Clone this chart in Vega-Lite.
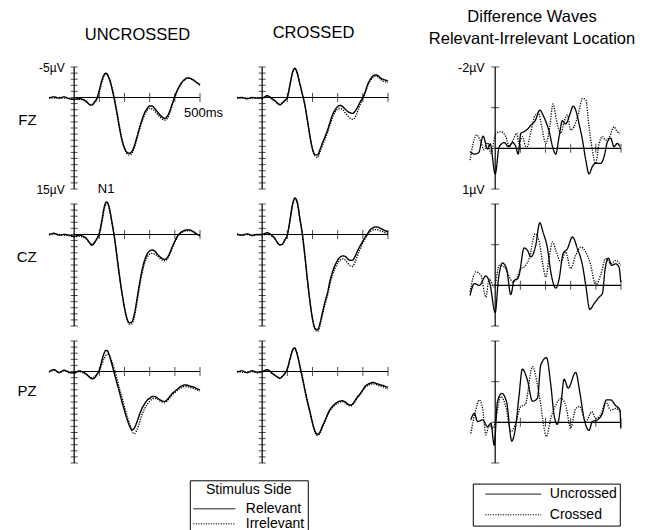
{
"$schema":"https://vega.github.io/schema/vega-lite/v6.json",
"padding":{"left":16,"top":9,"right":5,"bottom":0},
"background":"white",
"config":{"view":{"stroke":null},"font":"Liberation Sans","scale":{"continuousPadding":0}},
"datasets":{
"erp":[
{"p":"FZU","t":-100,"R":0.1,"I":0},{"p":"FZU","t":-80,"R":-0.1,"I":0.1},{"p":"FZU","t":-60,"R":0.1,"I":0},{"p":"FZU","t":-40,"R":-0.1,"I":0.1},{"p":"FZU","t":-20,"R":0.2,"I":0.1},{"p":"FZU","t":0,"R":0.3,"I":0.3},{"p":"FZU","t":20,"R":0.2,"I":0.3},{"p":"FZU","t":40,"R":0.4,"I":0.5},{"p":"FZU","t":50,"R":0.7,"I":0.8},{"p":"FZU","t":60,"R":1.1,"I":1.1},{"p":"FZU","t":70,"R":1.25,"I":1.2},{"p":"FZU","t":80,"R":0.8,"I":0.9},{"p":"FZU","t":90,"R":0.15,"I":0.3},{"p":"FZU","t":100,"R":-1.2,"I":-0.9},{"p":"FZU","t":110,"R":-2.8,"I":-2.5},{"p":"FZU","t":120,"R":-3.8,"I":-3.6},{"p":"FZU","t":125,"R":-4.0,"I":-3.9},{"p":"FZU","t":130,"R":-3.9,"I":-3.9},{"p":"FZU","t":135,"R":-3.5,"I":-3.6},{"p":"FZU","t":140,"R":-3.0,"I":-3.1},{"p":"FZU","t":150,"R":-1.5,"I":-1.7},{"p":"FZU","t":160,"R":0.4,"I":0.2},{"p":"FZU","t":170,"R":2.6,"I":2.3},{"p":"FZU","t":180,"R":5.0,"I":4.7},{"p":"FZU","t":190,"R":7.0,"I":6.8},{"p":"FZU","t":200,"R":8.3,"I":8.3},{"p":"FZU","t":210,"R":9.0,"I":9.2},{"p":"FZU","t":220,"R":9.15,"I":9.45},{"p":"FZU","t":230,"R":8.8,"I":9.1},{"p":"FZU","t":240,"R":7.8,"I":8.1},{"p":"FZU","t":250,"R":6.4,"I":6.7},{"p":"FZU","t":260,"R":4.9,"I":5.2},{"p":"FZU","t":270,"R":3.6,"I":3.9},{"p":"FZU","t":280,"R":2.5,"I":2.8},{"p":"FZU","t":290,"R":1.8,"I":2.1},{"p":"FZU","t":300,"R":1.4,"I":1.8},{"p":"FZU","t":310,"R":1.4,"I":1.9},{"p":"FZU","t":320,"R":1.8,"I":2.2},{"p":"FZU","t":330,"R":2.3,"I":2.7},{"p":"FZU","t":340,"R":2.8,"I":3.1},{"p":"FZU","t":350,"R":3.2,"I":3.5},{"p":"FZU","t":360,"R":3.4,"I":3.7},{"p":"FZU","t":370,"R":3.1,"I":3.4},{"p":"FZU","t":380,"R":2.2,"I":2.5},{"p":"FZU","t":390,"R":1.0,"I":1.2},{"p":"FZU","t":400,"R":-0.2,"I":0},{"p":"FZU","t":410,"R":-1.2,"I":-1.1},{"p":"FZU","t":420,"R":-2.0,"I":-1.9},{"p":"FZU","t":430,"R":-2.6,"I":-2.5},{"p":"FZU","t":440,"R":-3.0,"I":-2.9},{"p":"FZU","t":450,"R":-3.2,"I":-3.15},{"p":"FZU","t":460,"R":-3.15,"I":-3.15},{"p":"FZU","t":470,"R":-2.95,"I":-3.0},{"p":"FZU","t":480,"R":-2.65,"I":-2.7},{"p":"FZU","t":490,"R":-2.35,"I":-2.4},{"p":"FZU","t":500,"R":-2.0,"I":-2.1},
{"p":"FZC","t":-100,"R":0.1,"I":0},{"p":"FZC","t":-80,"R":0,"I":0.1},{"p":"FZC","t":-60,"R":0.2,"I":0.1},{"p":"FZC","t":-40,"R":0,"I":0.1},{"p":"FZC","t":-20,"R":0.1,"I":0},{"p":"FZC","t":0,"R":0.1,"I":0.2},{"p":"FZC","t":20,"R":-0.3,"I":-0.2},{"p":"FZC","t":40,"R":0.2,"I":0.3},{"p":"FZC","t":50,"R":0.5,"I":0.6},{"p":"FZC","t":60,"R":0.9,"I":0.9},{"p":"FZC","t":70,"R":1.2,"I":1.1},{"p":"FZC","t":80,"R":0.9,"I":0.9},{"p":"FZC","t":90,"R":0.5,"I":0.5},{"p":"FZC","t":100,"R":0,"I":0},{"p":"FZC","t":110,"R":-2.0,"I":-1.9},{"p":"FZC","t":120,"R":-4.0,"I":-3.9},{"p":"FZC","t":125,"R":-4.6,"I":-4.5},{"p":"FZC","t":130,"R":-4.8,"I":-4.7},{"p":"FZC","t":135,"R":-4.5,"I":-4.5},{"p":"FZC","t":140,"R":-3.9,"I":-3.9},{"p":"FZC","t":150,"R":-2.2,"I":-2.2},{"p":"FZC","t":160,"R":-0.5,"I":-0.5},{"p":"FZC","t":170,"R":1.3,"I":1.3},{"p":"FZC","t":180,"R":3.8,"I":3.8},{"p":"FZC","t":190,"R":6.4,"I":6.4},{"p":"FZC","t":200,"R":8.4,"I":8.5},{"p":"FZC","t":210,"R":9.4,"I":9.6},{"p":"FZC","t":220,"R":9.4,"I":9.8},{"p":"FZC","t":230,"R":8.5,"I":8.9},{"p":"FZC","t":240,"R":7.4,"I":7.8},{"p":"FZC","t":250,"R":6.4,"I":6.8},{"p":"FZC","t":260,"R":5.3,"I":5.7},{"p":"FZC","t":270,"R":4.0,"I":4.4},{"p":"FZC","t":280,"R":2.8,"I":3.2},{"p":"FZC","t":290,"R":2.0,"I":2.4},{"p":"FZC","t":300,"R":1.5,"I":1.9},{"p":"FZC","t":310,"R":1.3,"I":1.8},{"p":"FZC","t":320,"R":1.5,"I":2.0},{"p":"FZC","t":330,"R":1.9,"I":2.5},{"p":"FZC","t":340,"R":2.3,"I":3.0},{"p":"FZC","t":350,"R":2.5,"I":3.4},{"p":"FZC","t":360,"R":2.6,"I":3.6},{"p":"FZC","t":370,"R":2.2,"I":3.2},{"p":"FZC","t":380,"R":1.5,"I":2.2},{"p":"FZC","t":390,"R":0.7,"I":1.1},{"p":"FZC","t":400,"R":0,"I":0.2},{"p":"FZC","t":410,"R":-1.0,"I":-0.9},{"p":"FZC","t":420,"R":-2.2,"I":-2.0},{"p":"FZC","t":430,"R":-3.0,"I":-2.8},{"p":"FZC","t":440,"R":-3.5,"I":-3.3},{"p":"FZC","t":450,"R":-3.7,"I":-3.5},{"p":"FZC","t":460,"R":-3.6,"I":-3.4},{"p":"FZC","t":470,"R":-3.2,"I":-3.0},{"p":"FZC","t":480,"R":-3.0,"I":-2.7},{"p":"FZC","t":490,"R":-2.85,"I":-2.55},{"p":"FZC","t":500,"R":-2.7,"I":-2.4},
{"p":"CZU","t":-100,"R":0,"I":0.1},{"p":"CZU","t":-80,"R":-0.2,"I":-0.1},{"p":"CZU","t":-60,"R":0.1,"I":0},{"p":"CZU","t":-40,"R":0,"I":0.1},{"p":"CZU","t":-20,"R":0.1,"I":0.2},{"p":"CZU","t":0,"R":0.3,"I":0.4},{"p":"CZU","t":20,"R":0.1,"I":0.3},{"p":"CZU","t":40,"R":0.4,"I":0.5},{"p":"CZU","t":50,"R":0.7,"I":0.8},{"p":"CZU","t":60,"R":1.3,"I":1.3},{"p":"CZU","t":70,"R":1.75,"I":1.6},{"p":"CZU","t":80,"R":1.4,"I":1.3},{"p":"CZU","t":90,"R":0.7,"I":0.7},{"p":"CZU","t":100,"R":-0.2,"I":0},{"p":"CZU","t":110,"R":-2.3,"I":-1.9},{"p":"CZU","t":120,"R":-4.6,"I":-4.2},{"p":"CZU","t":125,"R":-5.2,"I":-4.8},{"p":"CZU","t":130,"R":-5.35,"I":-5.0},{"p":"CZU","t":135,"R":-5.0,"I":-4.8},{"p":"CZU","t":140,"R":-4.3,"I":-4.1},{"p":"CZU","t":150,"R":-2.0,"I":-2.0},{"p":"CZU","t":160,"R":0.5,"I":0.4},{"p":"CZU","t":170,"R":3.6,"I":3.5},{"p":"CZU","t":180,"R":6.8,"I":6.7},{"p":"CZU","t":190,"R":9.6,"I":9.6},{"p":"CZU","t":200,"R":12.0,"I":12.0},{"p":"CZU","t":210,"R":13.8,"I":13.9},{"p":"CZU","t":220,"R":14.5,"I":14.7},{"p":"CZU","t":230,"R":14.3,"I":14.6},{"p":"CZU","t":240,"R":12.9,"I":13.3},{"p":"CZU","t":250,"R":10.5,"I":11.0},{"p":"CZU","t":260,"R":8.0,"I":8.5},{"p":"CZU","t":270,"R":5.8,"I":6.3},{"p":"CZU","t":280,"R":4.2,"I":4.7},{"p":"CZU","t":290,"R":3.2,"I":3.7},{"p":"CZU","t":300,"R":2.7,"I":3.2},{"p":"CZU","t":310,"R":2.55,"I":3.1},{"p":"CZU","t":320,"R":2.7,"I":3.2},{"p":"CZU","t":330,"R":3.2,"I":3.5},{"p":"CZU","t":340,"R":3.6,"I":3.9},{"p":"CZU","t":350,"R":3.95,"I":4.2},{"p":"CZU","t":360,"R":4.1,"I":4.3},{"p":"CZU","t":370,"R":3.8,"I":4.0},{"p":"CZU","t":380,"R":3.0,"I":3.2},{"p":"CZU","t":390,"R":2.0,"I":2.2},{"p":"CZU","t":400,"R":1.1,"I":1.2},{"p":"CZU","t":410,"R":0.3,"I":0.4},{"p":"CZU","t":420,"R":-0.2,"I":-0.1},{"p":"CZU","t":430,"R":-0.5,"I":-0.4},{"p":"CZU","t":440,"R":-0.7,"I":-0.55},{"p":"CZU","t":450,"R":-0.75,"I":-0.6},{"p":"CZU","t":460,"R":-0.75,"I":-0.6},{"p":"CZU","t":470,"R":-0.55,"I":-0.45},{"p":"CZU","t":480,"R":-0.3,"I":-0.2},{"p":"CZU","t":490,"R":0,"I":0.05},{"p":"CZU","t":500,"R":0.2,"I":0.2},
{"p":"CZC","t":-100,"R":0,"I":-0.1},{"p":"CZC","t":-80,"R":0.1,"I":0.1},{"p":"CZC","t":-60,"R":-0.1,"I":0},{"p":"CZC","t":-40,"R":0.1,"I":0.2},{"p":"CZC","t":-20,"R":0,"I":0.1},{"p":"CZC","t":0,"R":0,"I":0.1},{"p":"CZC","t":20,"R":-0.3,"I":-0.1},{"p":"CZC","t":40,"R":0.2,"I":0.3},{"p":"CZC","t":50,"R":0.6,"I":0.7},{"p":"CZC","t":60,"R":1.3,"I":1.3},{"p":"CZC","t":70,"R":1.7,"I":1.7},{"p":"CZC","t":80,"R":1.6,"I":1.6},{"p":"CZC","t":90,"R":0.9,"I":0.9},{"p":"CZC","t":100,"R":0.1,"I":0.1},{"p":"CZC","t":110,"R":-2.2,"I":-2.1},{"p":"CZC","t":120,"R":-4.8,"I":-4.7},{"p":"CZC","t":125,"R":-5.6,"I":-5.5},{"p":"CZC","t":130,"R":-6.0,"I":-5.9},{"p":"CZC","t":135,"R":-5.8,"I":-5.7},{"p":"CZC","t":140,"R":-5.2,"I":-5.1},{"p":"CZC","t":150,"R":-2.6,"I":-2.5},{"p":"CZC","t":160,"R":0,"I":0.1},{"p":"CZC","t":170,"R":3.6,"I":3.6},{"p":"CZC","t":180,"R":7.5,"I":7.5},{"p":"CZC","t":190,"R":11.0,"I":11.0},{"p":"CZC","t":200,"R":13.8,"I":13.9},{"p":"CZC","t":210,"R":15.4,"I":15.5},{"p":"CZC","t":220,"R":15.6,"I":15.9},{"p":"CZC","t":230,"R":14.5,"I":14.9},{"p":"CZC","t":240,"R":12.7,"I":13.1},{"p":"CZC","t":250,"R":11.0,"I":11.4},{"p":"CZC","t":260,"R":9.5,"I":9.9},{"p":"CZC","t":270,"R":7.5,"I":8.0},{"p":"CZC","t":280,"R":6.1,"I":6.6},{"p":"CZC","t":290,"R":5.0,"I":5.5},{"p":"CZC","t":300,"R":4.2,"I":4.7},{"p":"CZC","t":310,"R":3.7,"I":4.2},{"p":"CZC","t":320,"R":3.5,"I":4.0},{"p":"CZC","t":330,"R":3.6,"I":4.2},{"p":"CZC","t":340,"R":4.0,"I":4.7},{"p":"CZC","t":350,"R":4.25,"I":5.1},{"p":"CZC","t":360,"R":4.2,"I":5.2},{"p":"CZC","t":370,"R":3.5,"I":4.4},{"p":"CZC","t":380,"R":2.6,"I":3.3},{"p":"CZC","t":390,"R":1.8,"I":2.3},{"p":"CZC","t":400,"R":1.1,"I":1.4},{"p":"CZC","t":410,"R":0.4,"I":0.6},{"p":"CZC","t":420,"R":-0.2,"I":0},{"p":"CZC","t":430,"R":-0.8,"I":-0.5},{"p":"CZC","t":440,"R":-1.1,"I":-0.75},{"p":"CZC","t":450,"R":-1.25,"I":-0.8},{"p":"CZC","t":460,"R":-1.2,"I":-0.75},{"p":"CZC","t":470,"R":-1.0,"I":-0.6},{"p":"CZC","t":480,"R":-0.8,"I":-0.45},{"p":"CZC","t":490,"R":-0.6,"I":-0.3},{"p":"CZC","t":500,"R":-0.5,"I":-0.2},
{"p":"PZU","t":-100,"R":0,"I":0.1},{"p":"PZU","t":-80,"R":-0.3,"I":-0.2},{"p":"PZU","t":-60,"R":0.2,"I":0.1},{"p":"PZU","t":-40,"R":-0.2,"I":-0.1},{"p":"PZU","t":-20,"R":0.1,"I":0.2},{"p":"PZU","t":0,"R":0.2,"I":0.3},{"p":"PZU","t":20,"R":-0.1,"I":0},{"p":"PZU","t":40,"R":0.2,"I":0.3},{"p":"PZU","t":50,"R":0.5,"I":0.5},{"p":"PZU","t":60,"R":0.9,"I":0.8},{"p":"PZU","t":70,"R":1.2,"I":1.0},{"p":"PZU","t":80,"R":1.1,"I":0.9},{"p":"PZU","t":90,"R":0.5,"I":0.5},{"p":"PZU","t":100,"R":-0.2,"I":-0.2},{"p":"PZU","t":110,"R":-1.8,"I":-1.2},{"p":"PZU","t":120,"R":-3.1,"I":-2.2},{"p":"PZU","t":125,"R":-3.45,"I":-2.6},{"p":"PZU","t":130,"R":-3.45,"I":-2.75},{"p":"PZU","t":135,"R":-3.2,"I":-2.8},{"p":"PZU","t":140,"R":-2.6,"I":-2.6},{"p":"PZU","t":150,"R":-1.2,"I":-1.6},{"p":"PZU","t":160,"R":0.4,"I":-0.3},{"p":"PZU","t":170,"R":1.9,"I":1.2},{"p":"PZU","t":180,"R":3.4,"I":2.8},{"p":"PZU","t":190,"R":5.0,"I":4.3},{"p":"PZU","t":200,"R":6.4,"I":5.8},{"p":"PZU","t":210,"R":7.8,"I":7.3},{"p":"PZU","t":220,"R":8.9,"I":8.6},{"p":"PZU","t":230,"R":9.6,"I":9.8},{"p":"PZU","t":240,"R":9.2,"I":10.2},{"p":"PZU","t":250,"R":8.2,"I":9.5},{"p":"PZU","t":260,"R":7.0,"I":8.3},{"p":"PZU","t":270,"R":6.0,"I":7.0},{"p":"PZU","t":280,"R":5.3,"I":6.1},{"p":"PZU","t":290,"R":4.7,"I":5.4},{"p":"PZU","t":300,"R":4.4,"I":4.9},{"p":"PZU","t":310,"R":4.1,"I":4.5},{"p":"PZU","t":320,"R":4.1,"I":4.4},{"p":"PZU","t":330,"R":4.3,"I":4.5},{"p":"PZU","t":340,"R":4.6,"I":4.8},{"p":"PZU","t":350,"R":4.85,"I":5.0},{"p":"PZU","t":360,"R":4.9,"I":5.1},{"p":"PZU","t":370,"R":4.6,"I":4.8},{"p":"PZU","t":380,"R":4.1,"I":4.3},{"p":"PZU","t":390,"R":3.6,"I":3.8},{"p":"PZU","t":400,"R":3.25,"I":3.45},{"p":"PZU","t":410,"R":2.9,"I":3.1},{"p":"PZU","t":420,"R":2.55,"I":2.8},{"p":"PZU","t":430,"R":2.3,"I":2.55},{"p":"PZU","t":440,"R":2.2,"I":2.45},{"p":"PZU","t":450,"R":2.25,"I":2.5},{"p":"PZU","t":460,"R":2.4,"I":2.6},{"p":"PZU","t":470,"R":2.5,"I":2.7},{"p":"PZU","t":480,"R":2.65,"I":2.85},{"p":"PZU","t":490,"R":2.85,"I":3.05},{"p":"PZU","t":500,"R":3.0,"I":3.2},
{"p":"PZC","t":-100,"R":0.1,"I":0},{"p":"PZC","t":-80,"R":-0.1,"I":0.1},{"p":"PZC","t":-60,"R":0.2,"I":0.1},{"p":"PZC","t":-40,"R":-0.1,"I":0},{"p":"PZC","t":-20,"R":0.1,"I":0.2},{"p":"PZC","t":0,"R":0,"I":0.1},{"p":"PZC","t":20,"R":-0.3,"I":-0.2},{"p":"PZC","t":40,"R":0.3,"I":0.3},{"p":"PZC","t":50,"R":0.6,"I":0.6},{"p":"PZC","t":60,"R":0.9,"I":0.9},{"p":"PZC","t":70,"R":1.1,"I":1.1},{"p":"PZC","t":80,"R":0.8,"I":0.8},{"p":"PZC","t":90,"R":0.35,"I":0.35},{"p":"PZC","t":100,"R":-0.4,"I":-0.4},{"p":"PZC","t":110,"R":-2.0,"I":-1.9},{"p":"PZC","t":120,"R":-3.4,"I":-3.3},{"p":"PZC","t":125,"R":-3.8,"I":-3.7},{"p":"PZC","t":130,"R":-3.85,"I":-3.8},{"p":"PZC","t":135,"R":-3.4,"I":-3.4},{"p":"PZC","t":140,"R":-2.7,"I":-2.7},{"p":"PZC","t":150,"R":-0.9,"I":-0.7},{"p":"PZC","t":160,"R":1.0,"I":1.2},{"p":"PZC","t":170,"R":3.0,"I":3.2},{"p":"PZC","t":180,"R":4.9,"I":5.1},{"p":"PZC","t":190,"R":6.6,"I":6.8},{"p":"PZC","t":200,"R":8.4,"I":8.6},{"p":"PZC","t":210,"R":9.8,"I":10.0},{"p":"PZC","t":220,"R":10.3,"I":10.5},{"p":"PZC","t":230,"R":9.9,"I":10.1},{"p":"PZC","t":240,"R":8.9,"I":9.1},{"p":"PZC","t":250,"R":8.0,"I":8.2},{"p":"PZC","t":260,"R":7.0,"I":7.2},{"p":"PZC","t":270,"R":6.2,"I":6.4},{"p":"PZC","t":280,"R":5.7,"I":5.9},{"p":"PZC","t":290,"R":5.3,"I":5.5},{"p":"PZC","t":300,"R":5.0,"I":5.2},{"p":"PZC","t":310,"R":4.85,"I":5.0},{"p":"PZC","t":320,"R":4.8,"I":4.95},{"p":"PZC","t":330,"R":5.0,"I":5.15},{"p":"PZC","t":340,"R":5.35,"I":5.5},{"p":"PZC","t":350,"R":5.5,"I":5.65},{"p":"PZC","t":360,"R":5.3,"I":5.45},{"p":"PZC","t":370,"R":4.7,"I":4.85},{"p":"PZC","t":380,"R":4.1,"I":4.25},{"p":"PZC","t":390,"R":3.6,"I":3.75},{"p":"PZC","t":400,"R":3.0,"I":3.15},{"p":"PZC","t":410,"R":2.4,"I":2.6},{"p":"PZC","t":420,"R":2.1,"I":2.3},{"p":"PZC","t":430,"R":1.9,"I":2.1},{"p":"PZC","t":440,"R":1.8,"I":2.0},{"p":"PZC","t":450,"R":1.9,"I":2.1},{"p":"PZC","t":460,"R":2.05,"I":2.25},{"p":"PZC","t":470,"R":2.2,"I":2.4},{"p":"PZC","t":480,"R":2.3,"I":2.5},{"p":"PZC","t":490,"R":2.45,"I":2.7},{"p":"PZC","t":500,"R":2.6,"I":2.9}
],
"diff":[
{"p":"FZ","c":"Uncrossed","t":-100,"v":0.08},{"p":"FZ","c":"Uncrossed","t":-83,"v":0.14},{"p":"FZ","c":"Uncrossed","t":-66,"v":0.11},{"p":"FZ","c":"Uncrossed","t":-48,"v":-0.3},{"p":"FZ","c":"Uncrossed","t":-30,"v":0.02},{"p":"FZ","c":"Uncrossed","t":-20,"v":-0.11},{"p":"FZ","c":"Uncrossed","t":0,"v":0.63},{"p":"FZ","c":"Uncrossed","t":16,"v":-0.04},{"p":"FZ","c":"Uncrossed","t":36,"v":-0.14},{"p":"FZ","c":"Uncrossed","t":53,"v":-0.04},{"p":"FZ","c":"Uncrossed","t":69,"v":-0.14},{"p":"FZ","c":"Uncrossed","t":82,"v":-0.04},{"p":"FZ","c":"Uncrossed","t":91,"v":0.14},{"p":"FZ","c":"Uncrossed","t":102,"v":-0.37},{"p":"FZ","c":"Uncrossed","t":115,"v":-0.41},{"p":"FZ","c":"Uncrossed","t":128,"v":-0.47},{"p":"FZ","c":"Uncrossed","t":142,"v":-0.57},{"p":"FZ","c":"Uncrossed","t":159,"v":-0.68},{"p":"FZ","c":"Uncrossed","t":177,"v":-0.94},{"p":"FZ","c":"Uncrossed","t":190,"v":-0.82},{"p":"FZ","c":"Uncrossed","t":201,"v":-0.66},{"p":"FZ","c":"Uncrossed","t":214,"v":-0.43},{"p":"FZ","c":"Uncrossed","t":228,"v":-0.04},{"p":"FZ","c":"Uncrossed","t":241,"v":0.14},{"p":"FZ","c":"Uncrossed","t":254,"v":-0.29},{"p":"FZ","c":"Uncrossed","t":267,"v":-0.68},{"p":"FZ","c":"Uncrossed","t":280,"v":-0.6},{"p":"FZ","c":"Uncrossed","t":296,"v":-0.82},{"p":"FZ","c":"Uncrossed","t":310,"v":-1.04},{"p":"FZ","c":"Uncrossed","t":320,"v":-0.94},{"p":"FZ","c":"Uncrossed","t":333,"v":-0.61},{"p":"FZ","c":"Uncrossed","t":347,"v":-0.2},{"p":"FZ","c":"Uncrossed","t":360,"v":0.29},{"p":"FZ","c":"Uncrossed","t":373,"v":0.63},{"p":"FZ","c":"Uncrossed","t":386,"v":0.45},{"p":"FZ","c":"Uncrossed","t":399,"v":0.37},{"p":"FZ","c":"Uncrossed","t":419,"v":0.37},{"p":"FZ","c":"Uncrossed","t":433,"v":0.2},{"p":"FZ","c":"Uncrossed","t":446,"v":-0.16},{"p":"FZ","c":"Uncrossed","t":459,"v":-0.25},{"p":"FZ","c":"Uncrossed","t":472,"v":-0.04},{"p":"FZ","c":"Uncrossed","t":485,"v":-0.12},{"p":"FZ","c":"Uncrossed","t":496,"v":-0.04},
{"p":"FZ","c":"Crossed","t":-100,"v":0.29},{"p":"FZ","c":"Crossed","t":-74,"v":-0.33},{"p":"FZ","c":"Crossed","t":-57,"v":-0.16},{"p":"FZ","c":"Crossed","t":-44,"v":0.04},{"p":"FZ","c":"Crossed","t":-30,"v":-0.14},{"p":"FZ","c":"Crossed","t":-17,"v":0.12},{"p":"FZ","c":"Crossed","t":3,"v":-0.37},{"p":"FZ","c":"Crossed","t":22,"v":-0.41},{"p":"FZ","c":"Crossed","t":42,"v":-0.29},{"p":"FZ","c":"Crossed","t":56,"v":-0.04},{"p":"FZ","c":"Crossed","t":71,"v":-0.2},{"p":"FZ","c":"Crossed","t":85,"v":-0.37},{"p":"FZ","c":"Crossed","t":95,"v":-0.12},{"p":"FZ","c":"Crossed","t":108,"v":-0.29},{"p":"FZ","c":"Crossed","t":124,"v":0},{"p":"FZ","c":"Crossed","t":142,"v":-0.41},{"p":"FZ","c":"Crossed","t":159,"v":-0.82},{"p":"FZ","c":"Crossed","t":172,"v":-0.86},{"p":"FZ","c":"Crossed","t":185,"v":-0.53},{"p":"FZ","c":"Crossed","t":201,"v":-0.12},{"p":"FZ","c":"Crossed","t":217,"v":-0.53},{"p":"FZ","c":"Crossed","t":230,"v":-1.09},{"p":"FZ","c":"Crossed","t":243,"v":-0.7},{"p":"FZ","c":"Crossed","t":261,"v":-0.37},{"p":"FZ","c":"Crossed","t":274,"v":-0.66},{"p":"FZ","c":"Crossed","t":287,"v":-0.82},{"p":"FZ","c":"Crossed","t":300,"v":-0.45},{"p":"FZ","c":"Crossed","t":313,"v":-0.53},{"p":"FZ","c":"Crossed","t":331,"v":-0.86},{"p":"FZ","c":"Crossed","t":347,"v":-1.23},{"p":"FZ","c":"Crossed","t":360,"v":-1.19},{"p":"FZ","c":"Crossed","t":373,"v":-0.53},{"p":"FZ","c":"Crossed","t":386,"v":0.04},{"p":"FZ","c":"Crossed","t":399,"v":0.37},{"p":"FZ","c":"Crossed","t":413,"v":-0.12},{"p":"FZ","c":"Crossed","t":426,"v":-0.29},{"p":"FZ","c":"Crossed","t":439,"v":-0.2},{"p":"FZ","c":"Crossed","t":455,"v":-0.29},{"p":"FZ","c":"Crossed","t":472,"v":-0.53},{"p":"FZ","c":"Crossed","t":485,"v":-0.41},{"p":"FZ","c":"Crossed","t":496,"v":-0.37},
{"p":"CZ","c":"Uncrossed","t":-100,"v":0.25},{"p":"CZ","c":"Uncrossed","t":-83,"v":-0.04},{"p":"CZ","c":"Uncrossed","t":-63,"v":0},{"p":"CZ","c":"Uncrossed","t":-37,"v":-0.23},{"p":"CZ","c":"Uncrossed","t":-21,"v":-0.04},{"p":"CZ","c":"Uncrossed","t":0,"v":0.67},{"p":"CZ","c":"Uncrossed","t":13,"v":-0.16},{"p":"CZ","c":"Uncrossed","t":29,"v":-0.55},{"p":"CZ","c":"Uncrossed","t":45,"v":-0.41},{"p":"CZ","c":"Uncrossed","t":62,"v":0.23},{"p":"CZ","c":"Uncrossed","t":75,"v":-0.12},{"p":"CZ","c":"Uncrossed","t":89,"v":-0.16},{"p":"CZ","c":"Uncrossed","t":95,"v":-0.25},{"p":"CZ","c":"Uncrossed","t":115,"v":-0.92},{"p":"CZ","c":"Uncrossed","t":128,"v":-0.86},{"p":"CZ","c":"Uncrossed","t":142,"v":-0.7},{"p":"CZ","c":"Uncrossed","t":161,"v":-0.98},{"p":"CZ","c":"Uncrossed","t":177,"v":-1.54},{"p":"CZ","c":"Uncrossed","t":190,"v":-1.31},{"p":"CZ","c":"Uncrossed","t":208,"v":-0.9},{"p":"CZ","c":"Uncrossed","t":221,"v":-0.33},{"p":"CZ","c":"Uncrossed","t":241,"v":0.07},{"p":"CZ","c":"Uncrossed","t":254,"v":-0.16},{"p":"CZ","c":"Uncrossed","t":270,"v":-0.78},{"p":"CZ","c":"Uncrossed","t":287,"v":-0.9},{"p":"CZ","c":"Uncrossed","t":307,"v":-1.19},{"p":"CZ","c":"Uncrossed","t":327,"v":-0.9},{"p":"CZ","c":"Uncrossed","t":347,"v":-0.49},{"p":"CZ","c":"Uncrossed","t":360,"v":0},{"p":"CZ","c":"Uncrossed","t":376,"v":0.59},{"p":"CZ","c":"Uncrossed","t":393,"v":0.45},{"p":"CZ","c":"Uncrossed","t":413,"v":0.29},{"p":"CZ","c":"Uncrossed","t":426,"v":0.2},{"p":"CZ","c":"Uncrossed","t":437,"v":-0.41},{"p":"CZ","c":"Uncrossed","t":450,"v":-0.67},{"p":"CZ","c":"Uncrossed","t":463,"v":-0.49},{"p":"CZ","c":"Uncrossed","t":479,"v":-0.53},{"p":"CZ","c":"Uncrossed","t":492,"v":-0.45},{"p":"CZ","c":"Uncrossed","t":499,"v":-0.08},
{"p":"CZ","c":"Crossed","t":-100,"v":0.16},{"p":"CZ","c":"Crossed","t":-77,"v":-0.33},{"p":"CZ","c":"Crossed","t":-57,"v":-0.25},{"p":"CZ","c":"Crossed","t":-37,"v":0.29},{"p":"CZ","c":"Crossed","t":-24,"v":-0.16},{"p":"CZ","c":"Crossed","t":-4,"v":0.04},{"p":"CZ","c":"Crossed","t":16,"v":-0.49},{"p":"CZ","c":"Crossed","t":36,"v":-0.45},{"p":"CZ","c":"Crossed","t":53,"v":-0.25},{"p":"CZ","c":"Crossed","t":69,"v":-0.08},{"p":"CZ","c":"Crossed","t":86,"v":-0.18},{"p":"CZ","c":"Crossed","t":102,"v":-0.41},{"p":"CZ","c":"Crossed","t":115,"v":-0.45},{"p":"CZ","c":"Crossed","t":135,"v":-0.66},{"p":"CZ","c":"Crossed","t":159,"v":-1.27},{"p":"CZ","c":"Crossed","t":175,"v":-1.07},{"p":"CZ","c":"Crossed","t":188,"v":-0.57},{"p":"CZ","c":"Crossed","t":201,"v":-0.2},{"p":"CZ","c":"Crossed","t":214,"v":-0.66},{"p":"CZ","c":"Crossed","t":228,"v":-1.07},{"p":"CZ","c":"Crossed","t":241,"v":-0.86},{"p":"CZ","c":"Crossed","t":261,"v":-0.57},{"p":"CZ","c":"Crossed","t":280,"v":-0.82},{"p":"CZ","c":"Crossed","t":300,"v":-0.41},{"p":"CZ","c":"Crossed","t":320,"v":-0.74},{"p":"CZ","c":"Crossed","t":340,"v":-0.94},{"p":"CZ","c":"Crossed","t":360,"v":-0.82},{"p":"CZ","c":"Crossed","t":380,"v":-0.49},{"p":"CZ","c":"Crossed","t":399,"v":0},{"p":"CZ","c":"Crossed","t":419,"v":-0.25},{"p":"CZ","c":"Crossed","t":439,"v":-0.66},{"p":"CZ","c":"Crossed","t":459,"v":-0.53},{"p":"CZ","c":"Crossed","t":479,"v":-0.61},{"p":"CZ","c":"Crossed","t":499,"v":-0.49},
{"p":"PZ","c":"Uncrossed","t":-97,"v":-0.06},{"p":"PZ","c":"Uncrossed","t":-83,"v":-0.22},{"p":"PZ","c":"Uncrossed","t":-70,"v":-0.02},{"p":"PZ","c":"Uncrossed","t":-50,"v":-0.06},{"p":"PZ","c":"Uncrossed","t":-30,"v":0.11},{"p":"PZ","c":"Uncrossed","t":-17,"v":0.02},{"p":"PZ","c":"Uncrossed","t":-4,"v":0.56},{"p":"PZ","c":"Uncrossed","t":9,"v":-0.51},{"p":"PZ","c":"Uncrossed","t":26,"v":-0.71},{"p":"PZ","c":"Uncrossed","t":45,"v":-0.51},{"p":"PZ","c":"Uncrossed","t":66,"v":0.46},{"p":"PZ","c":"Uncrossed","t":82,"v":0.07},{"p":"PZ","c":"Uncrossed","t":95,"v":-0.67},{"p":"PZ","c":"Uncrossed","t":108,"v":-1.31},{"p":"PZ","c":"Uncrossed","t":128,"v":-1.04},{"p":"PZ","c":"Uncrossed","t":148,"v":-0.52},{"p":"PZ","c":"Uncrossed","t":168,"v":-0.59},{"p":"PZ","c":"Uncrossed","t":181,"v":-1.41},{"p":"PZ","c":"Uncrossed","t":204,"v":-1.59},{"p":"PZ","c":"Uncrossed","t":221,"v":-0.92},{"p":"PZ","c":"Uncrossed","t":234,"v":-0.18},{"p":"PZ","c":"Uncrossed","t":247,"v":0.05},{"p":"PZ","c":"Uncrossed","t":261,"v":-0.43},{"p":"PZ","c":"Uncrossed","t":274,"v":-1.06},{"p":"PZ","c":"Uncrossed","t":290,"v":-0.84},{"p":"PZ","c":"Uncrossed","t":320,"v":-1.23},{"p":"PZ","c":"Uncrossed","t":336,"v":-0.75},{"p":"PZ","c":"Uncrossed","t":353,"v":-0.1},{"p":"PZ","c":"Uncrossed","t":373,"v":0.2},{"p":"PZ","c":"Uncrossed","t":386,"v":-0.02},{"p":"PZ","c":"Uncrossed","t":406,"v":-0.06},{"p":"PZ","c":"Uncrossed","t":426,"v":-0.22},{"p":"PZ","c":"Uncrossed","t":442,"v":-0.55},{"p":"PZ","c":"Uncrossed","t":459,"v":-0.55},{"p":"PZ","c":"Uncrossed","t":479,"v":-0.41},{"p":"PZ","c":"Uncrossed","t":496,"v":-0.3},{"p":"PZ","c":"Uncrossed","t":499,"v":0.15},
{"p":"PZ","c":"Crossed","t":-97,"v":0.27},{"p":"PZ","c":"Crossed","t":-79,"v":-0.26},{"p":"PZ","c":"Crossed","t":-63,"v":-0.55},{"p":"PZ","c":"Crossed","t":-50,"v":-0.34},{"p":"PZ","c":"Crossed","t":-37,"v":0.31},{"p":"PZ","c":"Crossed","t":-24,"v":0.07},{"p":"PZ","c":"Crossed","t":-8,"v":0.15},{"p":"PZ","c":"Crossed","t":5,"v":-0.18},{"p":"PZ","c":"Crossed","t":22,"v":-0.63},{"p":"PZ","c":"Crossed","t":42,"v":-0.39},{"p":"PZ","c":"Crossed","t":62,"v":0.23},{"p":"PZ","c":"Crossed","t":79,"v":0.07},{"p":"PZ","c":"Crossed","t":102,"v":-0.39},{"p":"PZ","c":"Crossed","t":119,"v":-0.43},{"p":"PZ","c":"Crossed","t":148,"v":-1.37},{"p":"PZ","c":"Crossed","t":168,"v":-0.92},{"p":"PZ","c":"Crossed","t":181,"v":-0.43},{"p":"PZ","c":"Crossed","t":190,"v":-0.02},{"p":"PZ","c":"Crossed","t":204,"v":0.35},{"p":"PZ","c":"Crossed","t":221,"v":-0.1},{"p":"PZ","c":"Crossed","t":241,"v":-0.43},{"p":"PZ","c":"Crossed","t":261,"v":-0.59},{"p":"PZ","c":"Crossed","t":280,"v":-0.43},{"p":"PZ","c":"Crossed","t":300,"v":0.15},{"p":"PZ","c":"Crossed","t":320,"v":-0.34},{"p":"PZ","c":"Crossed","t":336,"v":-0.39},{"p":"PZ","c":"Crossed","t":360,"v":-0.02},{"p":"PZ","c":"Crossed","t":384,"v":-0.26},{"p":"PZ","c":"Crossed","t":399,"v":-0.1},{"p":"PZ","c":"Crossed","t":419,"v":-0.18},{"p":"PZ","c":"Crossed","t":439,"v":-0.51},{"p":"PZ","c":"Crossed","t":459,"v":-0.3},{"p":"PZ","c":"Crossed","t":479,"v":-0.34},{"p":"PZ","c":"Crossed","t":496,"v":-0.26}
],
"ytE":[{"v":-5},{"v":-4},{"v":-3},{"v":-2},{"v":-1},{"v":0},{"v":1},{"v":2},{"v":3},{"v":4},{"v":5},{"v":6},{"v":7},{"v":8},{"v":9},{"v":10},{"v":11},{"v":12},{"v":13},{"v":14},{"v":15}],
"ytD":[{"v":-2},{"v":-1},{"v":0},{"v":1}],
"xt":[{"v":100},{"v":200},{"v":300},{"v":400},{"v":500}],
"one":[{"k":1}]
},
"columns":3,
"spacing":{"row":15,"column":37},
"align":"each",
"bounds":"flush",
"resolve":{"scale":{"strokeDash":"independent"},"legend":{"strokeDash":"independent"}},
"concat":[
{"width":151,"height":122,
"title":{"text":"UNCROSSED","fontSize":16.5,"fontWeight":"normal","color":"black","anchor":"middle","frame":"group","dx":13,"baseline":"alphabetic","offset":4.8},
"resolve":{"axis":{"y":"independent"}},
"layer":[
{"data":{"name":"erp"},"transform":[{"filter":"datum.p==='FZU'"},{"fold":["R","I"],"as":["side","v"]}],
"mark":{"type":"line","interpolate":"monotone","color":"black","strokeWidth":1.4},
"encoding":{"x":{"field":"t","type":"quantitative","scale":{"domain":[-100,500],"nice":false,"padding":0},"axis":null},
"y":{"field":"v","type":"quantitative","scale":{"domain":[-5,15],"reverse":true,"nice":false,"padding":0},"axis":{"orient":"left","values":[-5,15],"labelExpr":"datum.value + 'µV'","domain":false,"ticks":false,"grid":false,"offset":-25.2,"labelPadding":10,"labelFontSize":12,"labelColor":"black","labelFlush":false,"labelOverlap":false,"title":"FZ","titleAngle":0,"titleAlign":"right","titleBaseline":"middle","titleX":-38,"titleY":52,"titleFontSize":15,"titleFontWeight":"normal","titleColor":"black"}},
"strokeDash":{"field":"side","type":"nominal","scale":{"domain":["R","I"],"range":[[1,0],[1.2,1.3]]},"legend":null}}},
{"data":{"name":"ytE"},"mark":{"type":"tick","orient":"horizontal","size":7,"thickness":1,"color":"black"},"encoding":{"x":{"datum":0,"scale":{"domain":[-100,500],"nice":false,"padding":0},"axis":null},"y":{"field":"v","type":"quantitative","scale":{"domain":[-5,15],"reverse":true,"nice":false,"padding":0},"axis":null}}},
{"data":{"name":"xt"},"mark":{"type":"tick","orient":"vertical","size":9,"thickness":1,"color":"black"},"encoding":{"x":{"field":"v","type":"quantitative","scale":{"domain":[-100,500],"nice":false,"padding":0},"axis":null},"y":{"datum":0,"scale":{"domain":[-5,15],"reverse":true,"nice":false,"padding":0},"axis":null}}},
{"data":{"name":"one"},"mark":{"type":"rule","color":"black","strokeWidth":1.2},"encoding":{"x":{"datum":0,"scale":{"domain":[-100,500],"nice":false,"padding":0},"axis":null},"y":{"datum":-5,"scale":{"domain":[-5,15],"reverse":true,"nice":false,"padding":0},"axis":null},"y2":{"datum":15}}},
{"data":{"name":"one"},"mark":{"type":"rule","color":"black","strokeWidth":1.2},"encoding":{"x":{"datum":0,"scale":{"domain":[-100,500],"nice":false,"padding":0},"axis":null},"x2":{"datum":500},"y":{"datum":0,"scale":{"domain":[-5,15],"reverse":true,"nice":false,"padding":0},"axis":null}}},
{"data":{"values":[{"t":514,"v":2.5,"txt":"500ms"}]},"mark":{"type":"text","fontSize":13,"align":"center","baseline":"middle","color":"black"},"encoding":{"x":{"field":"t","type":"quantitative","scale":{"domain":[-100,500],"nice":false,"padding":0},"axis":null},"y":{"field":"v","type":"quantitative","scale":{"domain":[-5,15],"reverse":true,"nice":false,"padding":0},"axis":null},"text":{"field":"txt"}}}
]},
{"width":151,"height":122,
"title":{"text":"CROSSED","fontSize":16.5,"fontWeight":"normal","color":"black","anchor":"middle","frame":"group","dx":1,"baseline":"alphabetic","offset":11.4},
"layer":[
{"data":{"name":"erp"},"transform":[{"filter":"datum.p==='FZC'"},{"fold":["R","I"],"as":["side","v"]}],
"mark":{"type":"line","interpolate":"monotone","color":"black","strokeWidth":1.4},
"encoding":{"x":{"field":"t","type":"quantitative","scale":{"domain":[-100,500],"nice":false,"padding":0},"axis":null},
"y":{"field":"v","type":"quantitative","scale":{"domain":[-5,15],"reverse":true,"nice":false,"padding":0},"axis":null},
"strokeDash":{"field":"side","type":"nominal","scale":{"domain":["R","I"],"range":[[1,0],[1.2,1.3]]},"legend":null}}},
{"data":{"name":"ytE"},"mark":{"type":"tick","orient":"horizontal","size":7,"thickness":1,"color":"black"},"encoding":{"x":{"datum":0,"scale":{"domain":[-100,500],"nice":false,"padding":0},"axis":null},"y":{"field":"v","type":"quantitative","scale":{"domain":[-5,15],"reverse":true,"nice":false,"padding":0},"axis":null}}},
{"data":{"name":"xt"},"mark":{"type":"tick","orient":"vertical","size":9,"thickness":1,"color":"black"},"encoding":{"x":{"field":"v","type":"quantitative","scale":{"domain":[-100,500],"nice":false,"padding":0},"axis":null},"y":{"datum":0,"scale":{"domain":[-5,15],"reverse":true,"nice":false,"padding":0},"axis":null}}},
{"data":{"name":"one"},"mark":{"type":"rule","color":"black","strokeWidth":1.2},"encoding":{"x":{"datum":0,"scale":{"domain":[-100,500],"nice":false,"padding":0},"axis":null},"y":{"datum":-5,"scale":{"domain":[-5,15],"reverse":true,"nice":false,"padding":0},"axis":null},"y2":{"datum":15}}},
{"data":{"name":"one"},"mark":{"type":"rule","color":"black","strokeWidth":1.2},"encoding":{"x":{"datum":0,"scale":{"domain":[-100,500],"nice":false,"padding":0},"axis":null},"x2":{"datum":500},"y":{"datum":0,"scale":{"domain":[-5,15],"reverse":true,"nice":false,"padding":0},"axis":null}}}
]},
{"width":196,"height":122,
"title":{"text":["Difference Waves","Relevant-Irrelevant Location"],"lineHeight":21.6,"fontSize":16.5,"fontWeight":"normal","color":"black","anchor":"middle","frame":"group","dx":9,"baseline":"alphabetic","offset":0.6},
"resolve":{"axis":{"y":"independent"}},
"layer":[
{"data":{"name":"diff"},"transform":[{"filter":"datum.p==='FZ'"}],
"mark":{"type":"line","interpolate":"monotone","color":"black","strokeWidth":1.3},
"encoding":{"x":{"field":"t","type":"quantitative","scale":{"domain":[-279,500],"nice":false,"padding":0},"axis":null},
"y":{"field":"v","type":"quantitative","scale":{"domain":[-2,1],"reverse":true,"nice":false,"padding":0},"axis":{"orient":"left","values":[-2,1],"labelExpr":"datum.value + 'µV'","domain":false,"ticks":false,"grid":false,"offset":-70.2,"labelPadding":11,"labelFontSize":12.5,"labelColor":"black","labelFlush":false,"labelOverlap":false,"title":null}},
"strokeDash":{"field":"c","type":"nominal","scale":{"domain":["Uncrossed","Crossed"],"range":[[1,0],[1.2,1.3]]},"legend":null}}},
{"data":{"name":"ytD"},"mark":{"type":"tick","orient":"horizontal","size":8,"thickness":1,"color":"black"},"encoding":{"x":{"datum":0,"scale":{"domain":[-279,500],"nice":false,"padding":0},"axis":null},"y":{"field":"v","type":"quantitative","scale":{"domain":[-2,1],"reverse":true,"nice":false,"padding":0},"axis":null}}},
{"data":{"name":"xt"},"mark":{"type":"tick","orient":"vertical","size":9,"thickness":1,"color":"black"},"encoding":{"x":{"field":"v","type":"quantitative","scale":{"domain":[-279,500],"nice":false,"padding":0},"axis":null},"y":{"datum":0,"scale":{"domain":[-2,1],"reverse":true,"nice":false,"padding":0},"axis":null}}},
{"data":{"name":"one"},"mark":{"type":"rule","color":"black","strokeWidth":1.2},"encoding":{"x":{"datum":0,"scale":{"domain":[-279,500],"nice":false,"padding":0},"axis":null},"y":{"datum":-2,"scale":{"domain":[-2,1],"reverse":true,"nice":false,"padding":0},"axis":null},"y2":{"datum":1}}},
{"data":{"name":"one"},"mark":{"type":"rule","color":"black","strokeWidth":1.2},"encoding":{"x":{"datum":0,"scale":{"domain":[-279,500],"nice":false,"padding":0},"axis":null},"x2":{"datum":500},"y":{"datum":0,"scale":{"domain":[-2,1],"reverse":true,"nice":false,"padding":0},"axis":null}}}
]},
{"width":151,"height":122,
"resolve":{"axis":{"y":"independent"}},
"layer":[
{"data":{"name":"erp"},"transform":[{"filter":"datum.p==='CZU'"},{"fold":["R","I"],"as":["side","v"]}],
"mark":{"type":"line","interpolate":"monotone","color":"black","strokeWidth":1.4},
"encoding":{"x":{"field":"t","type":"quantitative","scale":{"domain":[-100,500],"nice":false,"padding":0},"axis":null},
"y":{"field":"v","type":"quantitative","scale":{"domain":[-5,15],"reverse":true,"nice":false,"padding":0},"axis":{"orient":"left","labels":false,"domain":false,"ticks":false,"grid":false,"offset":-25.2,"title":"CZ","titleAngle":0,"titleAlign":"right","titleBaseline":"middle","titleX":-38,"titleY":52.5,"titleFontSize":15,"titleFontWeight":"normal","titleColor":"black"}},
"strokeDash":{"field":"side","type":"nominal","scale":{"domain":["R","I"],"range":[[1,0],[1.2,1.3]]},"legend":null}}},
{"data":{"name":"ytE"},"mark":{"type":"tick","orient":"horizontal","size":7,"thickness":1,"color":"black"},"encoding":{"x":{"datum":0,"scale":{"domain":[-100,500],"nice":false,"padding":0},"axis":null},"y":{"field":"v","type":"quantitative","scale":{"domain":[-5,15],"reverse":true,"nice":false,"padding":0},"axis":null}}},
{"data":{"name":"xt"},"mark":{"type":"tick","orient":"vertical","size":9,"thickness":1,"color":"black"},"encoding":{"x":{"field":"v","type":"quantitative","scale":{"domain":[-100,500],"nice":false,"padding":0},"axis":null},"y":{"datum":0,"scale":{"domain":[-5,15],"reverse":true,"nice":false,"padding":0},"axis":null}}},
{"data":{"name":"one"},"mark":{"type":"rule","color":"black","strokeWidth":1.2},"encoding":{"x":{"datum":0,"scale":{"domain":[-100,500],"nice":false,"padding":0},"axis":null},"y":{"datum":-5,"scale":{"domain":[-5,15],"reverse":true,"nice":false,"padding":0},"axis":null},"y2":{"datum":15}}},
{"data":{"name":"one"},"mark":{"type":"rule","color":"black","strokeWidth":1.2},"encoding":{"x":{"datum":0,"scale":{"domain":[-100,500],"nice":false,"padding":0},"axis":null},"x2":{"datum":500},"y":{"datum":0,"scale":{"domain":[-5,15],"reverse":true,"nice":false,"padding":0},"axis":null}}},
{"data":{"values":[{"t":127,"v":-7.4,"txt":"N1"}]},"mark":{"type":"text","fontSize":13,"align":"center","baseline":"middle","color":"black"},"encoding":{"x":{"field":"t","type":"quantitative","scale":{"domain":[-100,500],"nice":false,"padding":0},"axis":null},"y":{"field":"v","type":"quantitative","scale":{"domain":[-5,15],"reverse":true,"nice":false,"padding":0},"axis":null},"text":{"field":"txt"}}}
]},
{"width":151,"height":122,
"layer":[
{"data":{"name":"erp"},"transform":[{"filter":"datum.p==='CZC'"},{"fold":["R","I"],"as":["side","v"]}],
"mark":{"type":"line","interpolate":"monotone","color":"black","strokeWidth":1.4},
"encoding":{"x":{"field":"t","type":"quantitative","scale":{"domain":[-100,500],"nice":false,"padding":0},"axis":null},
"y":{"field":"v","type":"quantitative","scale":{"domain":[-5,15],"reverse":true,"nice":false,"padding":0},"axis":null},
"strokeDash":{"field":"side","type":"nominal","scale":{"domain":["R","I"],"range":[[1,0],[1.2,1.3]]},"legend":null}}},
{"data":{"name":"ytE"},"mark":{"type":"tick","orient":"horizontal","size":7,"thickness":1,"color":"black"},"encoding":{"x":{"datum":0,"scale":{"domain":[-100,500],"nice":false,"padding":0},"axis":null},"y":{"field":"v","type":"quantitative","scale":{"domain":[-5,15],"reverse":true,"nice":false,"padding":0},"axis":null}}},
{"data":{"name":"xt"},"mark":{"type":"tick","orient":"vertical","size":9,"thickness":1,"color":"black"},"encoding":{"x":{"field":"v","type":"quantitative","scale":{"domain":[-100,500],"nice":false,"padding":0},"axis":null},"y":{"datum":0,"scale":{"domain":[-5,15],"reverse":true,"nice":false,"padding":0},"axis":null}}},
{"data":{"name":"one"},"mark":{"type":"rule","color":"black","strokeWidth":1.2},"encoding":{"x":{"datum":0,"scale":{"domain":[-100,500],"nice":false,"padding":0},"axis":null},"y":{"datum":-5,"scale":{"domain":[-5,15],"reverse":true,"nice":false,"padding":0},"axis":null},"y2":{"datum":15}}},
{"data":{"name":"one"},"mark":{"type":"rule","color":"black","strokeWidth":1.2},"encoding":{"x":{"datum":0,"scale":{"domain":[-100,500],"nice":false,"padding":0},"axis":null},"x2":{"datum":500},"y":{"datum":0,"scale":{"domain":[-5,15],"reverse":true,"nice":false,"padding":0},"axis":null}}}
]},
{"width":196,"height":122,
"layer":[
{"data":{"name":"diff"},"transform":[{"filter":"datum.p==='CZ'"}],
"mark":{"type":"line","interpolate":"monotone","color":"black","strokeWidth":1.3},
"encoding":{"x":{"field":"t","type":"quantitative","scale":{"domain":[-279,500],"nice":false,"padding":0},"axis":null},
"y":{"field":"v","type":"quantitative","scale":{"domain":[-2,1],"reverse":true,"nice":false,"padding":0},"axis":null},
"strokeDash":{"field":"c","type":"nominal","scale":{"domain":["Uncrossed","Crossed"],"range":[[1,0],[1.2,1.3]]},"legend":null}}},
{"data":{"name":"ytD"},"mark":{"type":"tick","orient":"horizontal","size":8,"thickness":1,"color":"black"},"encoding":{"x":{"datum":0,"scale":{"domain":[-279,500],"nice":false,"padding":0},"axis":null},"y":{"field":"v","type":"quantitative","scale":{"domain":[-2,1],"reverse":true,"nice":false,"padding":0},"axis":null}}},
{"data":{"name":"xt"},"mark":{"type":"tick","orient":"vertical","size":9,"thickness":1,"color":"black"},"encoding":{"x":{"field":"v","type":"quantitative","scale":{"domain":[-279,500],"nice":false,"padding":0},"axis":null},"y":{"datum":0,"scale":{"domain":[-2,1],"reverse":true,"nice":false,"padding":0},"axis":null}}},
{"data":{"name":"one"},"mark":{"type":"rule","color":"black","strokeWidth":1.2},"encoding":{"x":{"datum":0,"scale":{"domain":[-279,500],"nice":false,"padding":0},"axis":null},"y":{"datum":-2,"scale":{"domain":[-2,1],"reverse":true,"nice":false,"padding":0},"axis":null},"y2":{"datum":1}}},
{"data":{"name":"one"},"mark":{"type":"rule","color":"black","strokeWidth":1.2},"encoding":{"x":{"datum":0,"scale":{"domain":[-279,500],"nice":false,"padding":0},"axis":null},"x2":{"datum":500},"y":{"datum":0,"scale":{"domain":[-2,1],"reverse":true,"nice":false,"padding":0},"axis":null}}}
]},
{"width":151,"height":122,
"resolve":{"axis":{"y":"independent"}},
"layer":[
{"data":{"name":"erp"},"transform":[{"filter":"datum.p==='PZU'"},{"fold":["R","I"],"as":["side","v"]}],
"mark":{"type":"line","interpolate":"monotone","color":"black","strokeWidth":1.4},
"encoding":{"x":{"field":"t","type":"quantitative","scale":{"domain":[-100,500],"nice":false,"padding":0},"axis":null},
"y":{"field":"v","type":"quantitative","scale":{"domain":[-5,15],"reverse":true,"nice":false,"padding":0},"axis":{"orient":"left","labels":false,"domain":false,"ticks":false,"grid":false,"offset":-25.2,"title":"PZ","titleAngle":0,"titleAlign":"right","titleBaseline":"middle","titleX":-38,"titleY":49.5,"titleFontSize":15,"titleFontWeight":"normal","titleColor":"black"}},
"strokeDash":{"field":"side","type":"nominal","scale":{"domain":["R","I"],"range":[[1,0],[1.2,1.3]]},
"legend":{"orient":"none","legendX":140.8,"legendY":139.3,"title":"Stimulus Side","titleFontSize":14,"titleFontWeight":"normal","titleColor":"black","titleAnchor":"middle","titlePadding":4,"labelFontSize":14,"labelColor":"black","labelOffset":24,"labelExpr":"(datum.label === 'R' ? 'Relevant' : 'Irrelevant') + '\u00a0'","symbolType":"M-3,0H3","symbolSize":196,"symbolOffset":14,"symbolStrokeWidth":1,"symbolStrokeColor":"black","symbolFillColor":"transparent","strokeColor":"black","fillColor":"white","padding":3,"rowPadding":0}}}},
{"data":{"name":"ytE"},"mark":{"type":"tick","orient":"horizontal","size":7,"thickness":1,"color":"black"},"encoding":{"x":{"datum":0,"scale":{"domain":[-100,500],"nice":false,"padding":0},"axis":null},"y":{"field":"v","type":"quantitative","scale":{"domain":[-5,15],"reverse":true,"nice":false,"padding":0},"axis":null}}},
{"data":{"name":"xt"},"mark":{"type":"tick","orient":"vertical","size":9,"thickness":1,"color":"black"},"encoding":{"x":{"field":"v","type":"quantitative","scale":{"domain":[-100,500],"nice":false,"padding":0},"axis":null},"y":{"datum":0,"scale":{"domain":[-5,15],"reverse":true,"nice":false,"padding":0},"axis":null}}},
{"data":{"name":"one"},"mark":{"type":"rule","color":"black","strokeWidth":1.2},"encoding":{"x":{"datum":0,"scale":{"domain":[-100,500],"nice":false,"padding":0},"axis":null},"y":{"datum":-5,"scale":{"domain":[-5,15],"reverse":true,"nice":false,"padding":0},"axis":null},"y2":{"datum":15}}},
{"data":{"name":"one"},"mark":{"type":"rule","color":"black","strokeWidth":1.2},"encoding":{"x":{"datum":0,"scale":{"domain":[-100,500],"nice":false,"padding":0},"axis":null},"x2":{"datum":500},"y":{"datum":0,"scale":{"domain":[-5,15],"reverse":true,"nice":false,"padding":0},"axis":null}}}
]},
{"width":151,"height":122,
"layer":[
{"data":{"name":"erp"},"transform":[{"filter":"datum.p==='PZC'"},{"fold":["R","I"],"as":["side","v"]}],
"mark":{"type":"line","interpolate":"monotone","color":"black","strokeWidth":1.4},
"encoding":{"x":{"field":"t","type":"quantitative","scale":{"domain":[-100,500],"nice":false,"padding":0},"axis":null},
"y":{"field":"v","type":"quantitative","scale":{"domain":[-5,15],"reverse":true,"nice":false,"padding":0},"axis":null},
"strokeDash":{"field":"side","type":"nominal","scale":{"domain":["R","I"],"range":[[1,0],[1.2,1.3]]},"legend":null}}},
{"data":{"name":"ytE"},"mark":{"type":"tick","orient":"horizontal","size":7,"thickness":1,"color":"black"},"encoding":{"x":{"datum":0,"scale":{"domain":[-100,500],"nice":false,"padding":0},"axis":null},"y":{"field":"v","type":"quantitative","scale":{"domain":[-5,15],"reverse":true,"nice":false,"padding":0},"axis":null}}},
{"data":{"name":"xt"},"mark":{"type":"tick","orient":"vertical","size":9,"thickness":1,"color":"black"},"encoding":{"x":{"field":"v","type":"quantitative","scale":{"domain":[-100,500],"nice":false,"padding":0},"axis":null},"y":{"datum":0,"scale":{"domain":[-5,15],"reverse":true,"nice":false,"padding":0},"axis":null}}},
{"data":{"name":"one"},"mark":{"type":"rule","color":"black","strokeWidth":1.2},"encoding":{"x":{"datum":0,"scale":{"domain":[-100,500],"nice":false,"padding":0},"axis":null},"y":{"datum":-5,"scale":{"domain":[-5,15],"reverse":true,"nice":false,"padding":0},"axis":null},"y2":{"datum":15}}},
{"data":{"name":"one"},"mark":{"type":"rule","color":"black","strokeWidth":1.2},"encoding":{"x":{"datum":0,"scale":{"domain":[-100,500],"nice":false,"padding":0},"axis":null},"x2":{"datum":500},"y":{"datum":0,"scale":{"domain":[-5,15],"reverse":true,"nice":false,"padding":0},"axis":null}}}
]},
{"width":196,"height":122,
"layer":[
{"data":{"name":"diff"},"transform":[{"filter":"datum.p==='PZ'"}],
"mark":{"type":"line","interpolate":"monotone","color":"black","strokeWidth":1.3},
"encoding":{"x":{"field":"t","type":"quantitative","scale":{"domain":[-279,500],"nice":false,"padding":0},"axis":null},
"y":{"field":"v","type":"quantitative","scale":{"domain":[-2,1],"reverse":true,"nice":false,"padding":0},"axis":null},
"strokeDash":{"field":"c","type":"nominal","scale":{"domain":["Uncrossed","Crossed"],"range":[[1,0],[1.2,1.3]]},
"legend":{"orient":"none","legendX":47.8,"legendY":142.6,"title":null,"labelFontSize":14,"labelColor":"black","labelOffset":29,"labelExpr":"datum.label + '\u00a0'","symbolType":"M-4,0H4","symbolSize":196,"symbolOffset":30,"symbolStrokeWidth":1,"symbolStrokeColor":"black","symbolFillColor":"transparent","strokeColor":"black","fillColor":"white","padding":3,"rowPadding":5.7}}}},
{"data":{"name":"ytD"},"mark":{"type":"tick","orient":"horizontal","size":8,"thickness":1,"color":"black"},"encoding":{"x":{"datum":0,"scale":{"domain":[-279,500],"nice":false,"padding":0},"axis":null},"y":{"field":"v","type":"quantitative","scale":{"domain":[-2,1],"reverse":true,"nice":false,"padding":0},"axis":null}}},
{"data":{"name":"xt"},"mark":{"type":"tick","orient":"vertical","size":9,"thickness":1,"color":"black"},"encoding":{"x":{"field":"v","type":"quantitative","scale":{"domain":[-279,500],"nice":false,"padding":0},"axis":null},"y":{"datum":0,"scale":{"domain":[-2,1],"reverse":true,"nice":false,"padding":0},"axis":null}}},
{"data":{"name":"one"},"mark":{"type":"rule","color":"black","strokeWidth":1.2},"encoding":{"x":{"datum":0,"scale":{"domain":[-279,500],"nice":false,"padding":0},"axis":null},"y":{"datum":-2,"scale":{"domain":[-2,1],"reverse":true,"nice":false,"padding":0},"axis":null},"y2":{"datum":1}}},
{"data":{"name":"one"},"mark":{"type":"rule","color":"black","strokeWidth":1.2},"encoding":{"x":{"datum":0,"scale":{"domain":[-279,500],"nice":false,"padding":0},"axis":null},"x2":{"datum":500},"y":{"datum":0,"scale":{"domain":[-2,1],"reverse":true,"nice":false,"padding":0},"axis":null}}}
]}
]
}
